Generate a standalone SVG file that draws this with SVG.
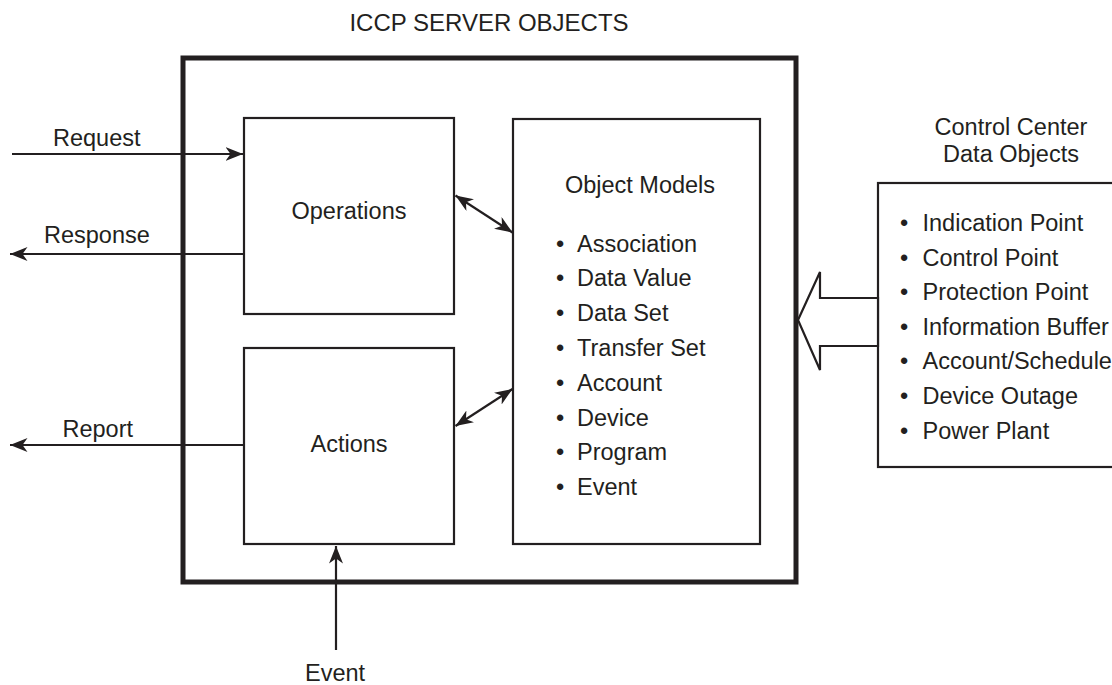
<svg xmlns="http://www.w3.org/2000/svg" width="1112" height="685" viewBox="0 0 1112 685">
  <style>
    text { font-family: "Liberation Sans", Arial, Helvetica, sans-serif; font-size: 23.5px; fill: #231f20; }
    .mid { text-anchor: middle; }
    .box { fill: #ffffff; stroke: #231f20; stroke-width: 2.2; }
    .frame { fill: none; stroke: #231f20; stroke-width: 5; }
    .wire { fill: none; stroke: #231f20; stroke-width: 2.2; }
    .bul { text-anchor: middle; }
  </style>
  <defs>
    <marker id="head" markerUnits="userSpaceOnUse" markerWidth="20" markerHeight="16" refX="17.5" refY="7" orient="auto-start-reverse">
      <path d="M0,0 L17.5,7 L0,14 L5,7 Z" fill="#231f20"/>
    </marker>
  </defs>

  <rect width="1112" height="685" fill="#ffffff"/>

  <!-- server frame -->
  <g id="server">
    <rect class="frame" x="183" y="58" width="613" height="524"/>
    <text class="mid" x="489" y="31" style="font-size:24px">ICCP SERVER OBJECTS</text>
  </g>

  <g id="operations">
    <rect class="box" x="244" y="118" width="210" height="196"/>
    <text class="mid" x="349" y="219">Operations</text>
  </g>

  <g id="actions">
    <rect class="box" x="244" y="348" width="210" height="196"/>
    <text class="mid" x="349" y="451.5">Actions</text>
  </g>

  <g id="object-models">
    <rect class="box" x="513" y="119" width="247" height="425"/>
    <text class="mid" x="640" y="193">Object Models</text>
    <text y="251.5"><tspan class="bul" x="560">•</tspan><tspan x="577">Association</tspan></text>
    <text y="286.3"><tspan class="bul" x="560">•</tspan><tspan x="577">Data Value</tspan></text>
    <text y="321.1"><tspan class="bul" x="560">•</tspan><tspan x="577">Data Set</tspan></text>
    <text y="355.9"><tspan class="bul" x="560">•</tspan><tspan x="577">Transfer Set</tspan></text>
    <text y="390.7"><tspan class="bul" x="560">•</tspan><tspan x="577">Account</tspan></text>
    <text y="425.5"><tspan class="bul" x="560">•</tspan><tspan x="577">Device</tspan></text>
    <text y="460.3"><tspan class="bul" x="560">•</tspan><tspan x="577">Program</tspan></text>
    <text y="495.1"><tspan class="bul" x="560">•</tspan><tspan x="577">Event</tspan></text>
  </g>

  <g id="control-center">
    <text class="mid" x="1011" y="135">Control Center</text>
    <text class="mid" x="1011" y="161.5">Data Objects</text>
    <rect class="box" x="878" y="183" width="300" height="284"/>
    <text y="231"><tspan class="bul" x="904">•</tspan><tspan x="922.5">Indication Point</tspan></text>
    <text y="265.6"><tspan class="bul" x="904">•</tspan><tspan x="922.5">Control Point</tspan></text>
    <text y="300.2"><tspan class="bul" x="904">•</tspan><tspan x="922.5">Protection Point</tspan></text>
    <text y="334.8"><tspan class="bul" x="904">•</tspan><tspan x="922.5">Information Buffer</tspan></text>
    <text y="369.4"><tspan class="bul" x="904">•</tspan><tspan x="922.5">Account/Schedule</tspan></text>
    <text y="404"><tspan class="bul" x="904">•</tspan><tspan x="922.5">Device Outage</tspan></text>
    <text y="438.6"><tspan class="bul" x="904">•</tspan><tspan x="922.5">Power Plant</tspan></text>
  </g>

  <!-- connectors -->
  <g id="connectors">
    <line class="wire" x1="12" y1="154" x2="243" y2="154" marker-end="url(#head)"/>
    <text x="53" y="146">Request</text>
    <line class="wire" x1="244" y1="254" x2="10" y2="254" marker-end="url(#head)"/>
    <text x="44" y="243">Response</text>
    <line class="wire" x1="244" y1="445" x2="10" y2="445" marker-end="url(#head)"/>
    <text x="62.5" y="436.5">Report</text>
    <line class="wire" x1="336" y1="650" x2="336" y2="546" marker-end="url(#head)"/>
    <text class="mid" x="335" y="681">Event</text>
    <line class="wire" x1="455.5" y1="195.5" x2="512.5" y2="232.5" marker-start="url(#head)" marker-end="url(#head)"/>
    <line class="wire" x1="512.5" y1="389" x2="455.5" y2="426" marker-start="url(#head)" marker-end="url(#head)"/>
    <!-- hollow block arrow into the server frame -->
    <polygon class="box" points="798,320 820,272 820,298 878,298 878,346 820,346 820,370"/>
  </g>
</svg>
